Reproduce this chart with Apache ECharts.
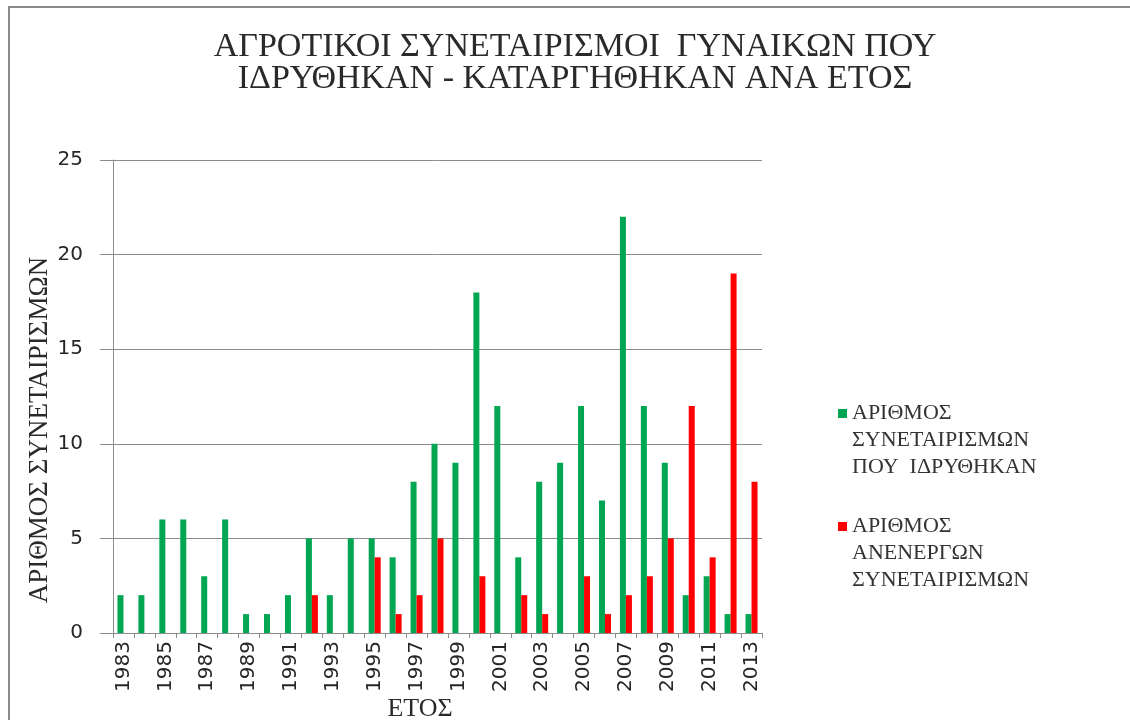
<!DOCTYPE html>
<html>
<head>
<meta charset="utf-8">
<script src="https://cdn.jsdelivr.net/npm/echarts@6/dist/echarts.min.js"></script>
<style>html,body{margin:0;padding:0;background:#fff;}#c{width:1130px;height:720px;}</style>
</head>
<body>
<div id="c"></div>
<script>
const years = ['1983','1984','1985','1986','1987','1988','1989','1990','1991','1992','1993','1994','1995','1996','1997','1998','1999','2000','2001','2002','2003','2004','2005','2006','2007','2008','2009','2010','2011','2012','2013'];
const founded = [2,2,6,6,3,6,1,1,2,5,2,5,5,4,8,10,9,18,12,4,8,9,12,7,22,12,9,2,3,1,1];
const inactive = [0,0,0,0,0,0,0,0,0,2,0,0,4,1,2,5,0,3,0,2,1,0,3,1,2,3,5,12,4,19,8];
const yTicks = [0,5,10,15,20,25];
const seriesNames = ['ΑΡΙΘΜΟΣ\nΣΥΝΕΤΑΙΡΙΣΜΩΝ\nΠΟΥ  ΙΔΡΥΘΗΚΑΝ', 'ΑΡΙΘΜΟΣ\nΑΝΕΝΕΡΓΩΝ\nΣΥΝΕΤΑΙΡΙΣΜΩΝ'];
const titleText = 'ΑΓΡΟΤΙΚΟΙ ΣΥΝΕΤΑΙΡΙΣΜΟΙ  ΓΥΝΑΙΚΩΝ ΠΟΥ\nΙΔΡΥΘΗΚΑΝ - ΚΑΤΑΡΓΗΘΗΚΑΝ ΑΝΑ ΕΤΟΣ';

const serif = '"Liberation Serif", "DejaVu Serif", serif';
const sans = '"DejaVu Sans", Verdana, sans-serif';
const legendText = {fontFamily: serif, fontSize: 22, color: '#333', lineHeight: 27};

const chart = echarts.init(document.getElementById('c'));
chart.setOption({
  animation: false,
  backgroundColor: '#fff',
  title: {
    text: titleText, left: 570, textAlign: 'center', top: 26,
    textStyle: {fontFamily: serif, fontSize: 34, fontWeight: 'normal', color: '#2a2a2a', lineHeight: 32}
  },
  legend: [
    {data: [seriesNames[0]], orient: 'vertical', left: 833, top: 412 - 71, itemWidth: 9, itemHeight: 9, itemGap: 5, icon: 'rect',
      formatter: n => '\n\n' + n, textStyle: legendText},
    {data: [seriesNames[1]], orient: 'vertical', left: 833, top: 525 - 71, itemWidth: 9, itemHeight: 9, itemGap: 5, icon: 'rect',
      formatter: n => '\n\n' + n, textStyle: legendText}
  ],
  grid: {left: 113, right: 368, top: 160, bottom: 87, containLabel: false},
  xAxis: {
    type: 'category', data: years,
    axisLine: {lineStyle: {color: '#8c8c8c', width: 1}},
    axisTick: {show: true, interval: 0, length: 5, lineStyle: {color: '#8c8c8c'}},
    axisLabel: {interval: 1, rotate: 90, fontFamily: sans, fontSize: 20, color: '#262626', margin: 8}
  },
  yAxis: {
    type: 'value', min: 0, max: 25, interval: 5,
    axisLine: {show: true, lineStyle: {color: '#8c8c8c'}},
    axisTick: {show: true, length: 13, lineStyle: {color: '#8c8c8c'}},
    splitLine: {lineStyle: {color: '#8c8c8c', width: 1}},
    axisLabel: {fontFamily: sans, fontSize: 20, color: '#262626', margin: 30,
      formatter: v => yTicks.includes(v) ? String(v) : ''}
  },
  graphic: [
    {type: 'rect', shape: {x: 9, y: 7, width: 1140, height: 730}, style: {fill: 'none', stroke: '#8a8a8a', lineWidth: 2}, silent: true},
    {type: 'text', x: 40, y: 430, rotation: Math.PI / 2,
      style: {text: 'ΑΡΙΘΜΟΣ ΣΥΝΕΤΑΙΡΙΣΜΩΝ', fontFamily: serif, fontSize: 27, fill: '#2a2a2a', align: 'center', verticalAlign: 'middle'}},
    {type: 'text', x: 420, y: 709,
      style: {text: 'ΕΤΟΣ', fontFamily: serif, fontSize: 26, fill: '#2a2a2a', align: 'center', verticalAlign: 'middle'}}
  ],
  series: [
    {name: seriesNames[0], type: 'bar', data: founded, barWidth: 6, barGap: '0%', itemStyle: {color: '#00a651'}},
    {name: seriesNames[1], type: 'bar', data: inactive, barWidth: 6, barGap: '0%', itemStyle: {color: '#ff0000'}}
  ]
});
</script>
</body>
</html>
